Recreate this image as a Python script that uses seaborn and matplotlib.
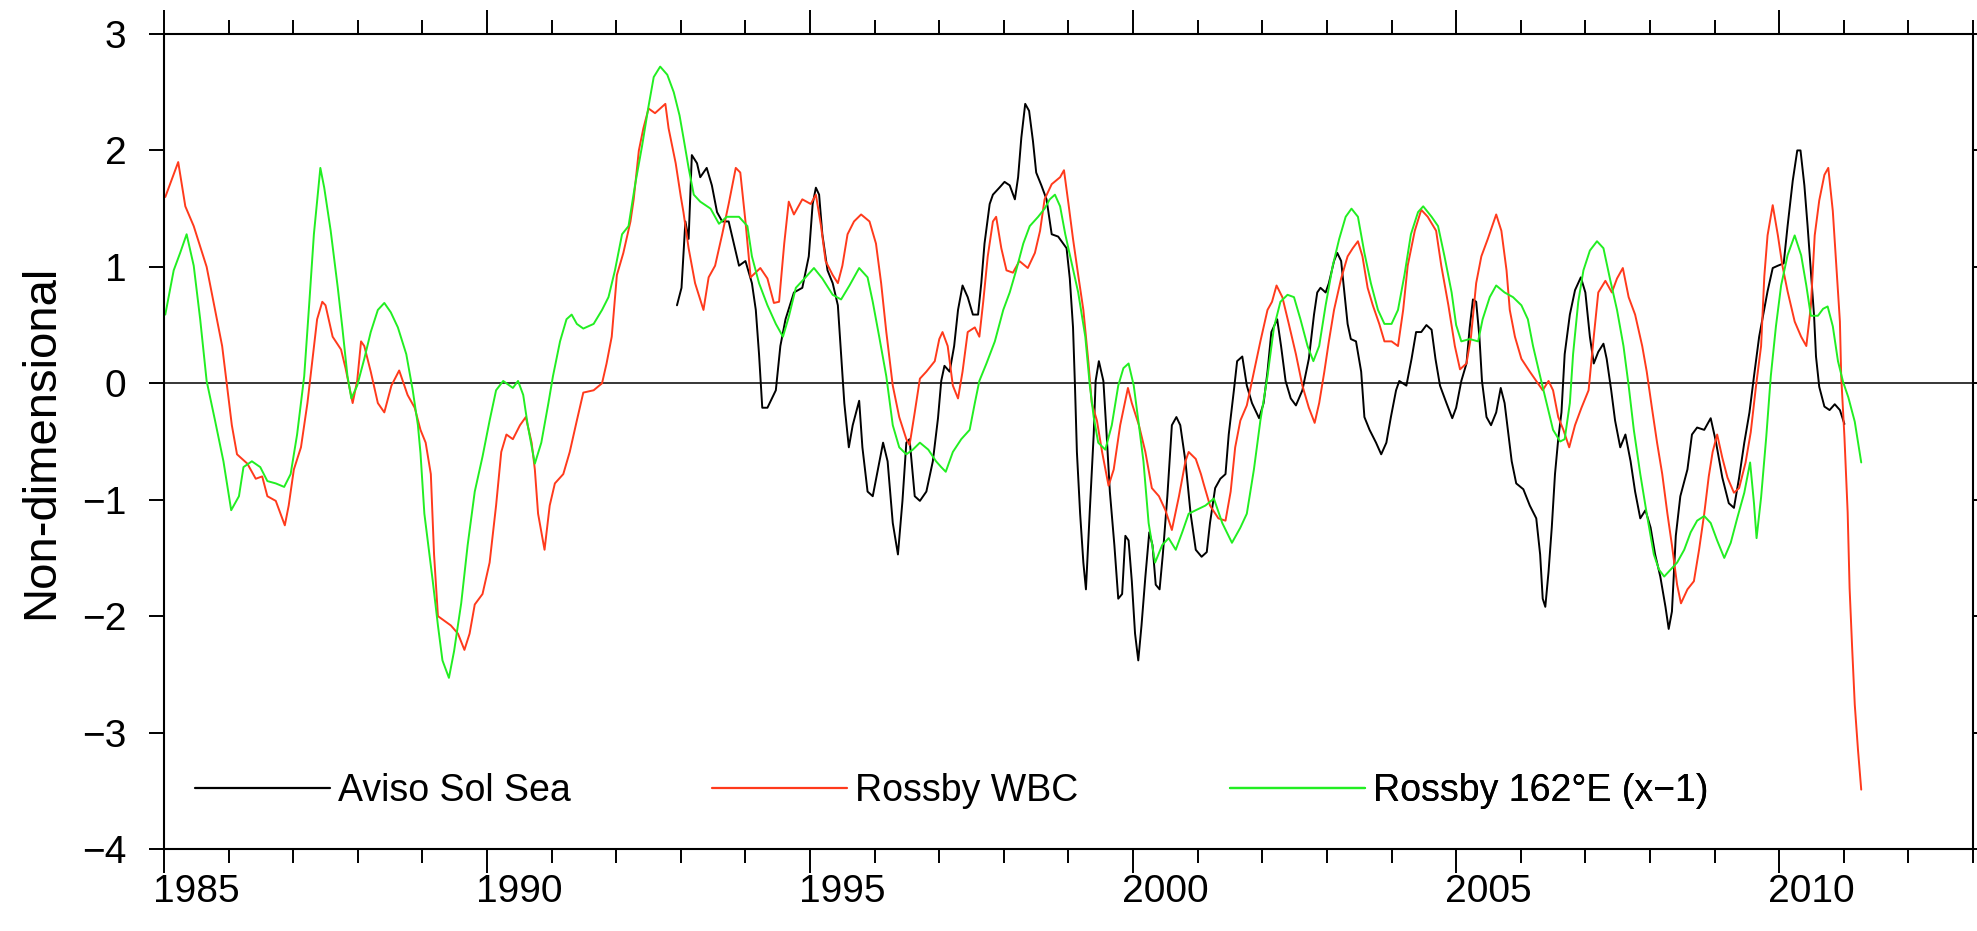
import numpy as np
import pandas as pd
import seaborn as sns
import matplotlib
matplotlib.use("Agg")
import matplotlib.pyplot as plt
from matplotlib.ticker import FixedLocator, MultipleLocator
from matplotlib.transforms import ScaledTranslation
from matplotlib.lines import Line2D

# ---------------- data ----------------
aviso_year = [1992.94, 1993.01, 1993.07, 1993.12, 1993.17, 1993.25, 1993.30, 1993.40, 1993.48, 1993.56,
              1993.64, 1993.74, 1993.82, 1993.90, 1994.00, 1994.10, 1994.16, 1994.21, 1994.26, 1994.34,
              1994.47, 1994.54, 1994.62, 1994.75, 1994.88, 1994.98, 1995.04, 1995.09, 1995.14, 1995.19,
              1995.27, 1995.35, 1995.43, 1995.48, 1995.53, 1995.60, 1995.66, 1995.76, 1995.81, 1995.89,
              1995.97, 1996.05, 1996.13, 1996.20, 1996.28, 1996.36, 1996.43, 1996.49, 1996.54, 1996.62,
              1996.70, 1996.80, 1996.90, 1996.98, 1997.03, 1997.08, 1997.16, 1997.23, 1997.29, 1997.36,
              1997.44, 1997.52, 1997.60, 1997.65, 1997.70, 1997.78, 1997.83, 1997.93, 1998.01, 1998.09,
              1998.17, 1998.22, 1998.27, 1998.33, 1998.39, 1998.45, 1998.50, 1998.58, 1998.66, 1998.74,
              1998.84, 1998.97, 1999.02, 1999.07, 1999.10, 1999.13, 1999.18, 1999.23, 1999.27, 1999.33,
              1999.39, 1999.42, 1999.47, 1999.54, 1999.59, 1999.64, 1999.71, 1999.77, 1999.83, 1999.88,
              1999.93, 1999.98, 2000.03, 2000.08, 2000.13, 2000.19, 2000.25, 2000.30, 2000.35, 2000.41,
              2000.46, 2000.53, 2000.60, 2000.67, 2000.73, 2000.81, 2000.89, 2000.97, 2001.06, 2001.14,
              2001.19, 2001.27, 2001.35, 2001.43, 2001.48, 2001.56, 2001.61, 2001.69, 2001.76, 2001.84,
              2001.95, 2002.02, 2002.08, 2002.14, 2002.23, 2002.29, 2002.36, 2002.44, 2002.52, 2002.62,
              2002.72, 2002.80, 2002.85, 2002.90, 2002.98, 2003.03, 2003.11, 2003.16, 2003.22, 2003.27,
              2003.32, 2003.37, 2003.45, 2003.53, 2003.58, 2003.66, 2003.76, 2003.84, 2003.92, 2003.99,
              2004.07, 2004.12, 2004.23, 2004.31, 2004.38, 2004.46, 2004.54, 2004.62, 2004.68, 2004.75,
              2004.85, 2004.94, 2005.00, 2005.08, 2005.16, 2005.21, 2005.26, 2005.31, 2005.36, 2005.40,
              2005.47, 2005.54, 2005.62, 2005.69, 2005.75, 2005.80, 2005.86, 2005.93, 2006.04, 2006.14,
              2006.24, 2006.30, 2006.34, 2006.38, 2006.43, 2006.48, 2006.53, 2006.58, 2006.63, 2006.68,
              2006.76, 2006.84, 2006.93, 2007.00, 2007.07, 2007.13, 2007.20, 2007.28, 2007.33, 2007.40,
              2007.46, 2007.54, 2007.62, 2007.70, 2007.77, 2007.85, 2007.93, 2008.01, 2008.08, 2008.16,
              2008.24, 2008.29, 2008.34, 2008.40, 2008.47, 2008.58, 2008.65, 2008.73, 2008.84, 2008.94,
              2009.02, 2009.12, 2009.22, 2009.30, 2009.38, 2009.46, 2009.54, 2009.61, 2009.69, 2009.74,
              2009.82, 2009.90, 2009.98, 2010.07, 2010.13, 2010.21, 2010.28, 2010.33, 2010.39, 2010.44,
              2010.49, 2010.54, 2010.57, 2010.62, 2010.70, 2010.78, 2010.86, 2010.94, 2011.01]
aviso_val = [0.67, 0.82, 1.39, 1.24, 1.96, 1.89, 1.77, 1.85, 1.70, 1.47,
             1.39, 1.39, 1.20, 1.01, 1.05, 0.86, 0.63, 0.25, -0.21, -0.21,
             -0.06, 0.32, 0.55, 0.78, 0.82, 1.09, 1.54, 1.68, 1.62, 1.28,
             0.97, 0.86, 0.67, 0.25, -0.17, -0.55, -0.36, -0.15, -0.55, -0.93,
             -0.97, -0.74, -0.51, -0.67, -1.20, -1.47, -1.01, -0.51, -0.48, -0.97,
             -1.01, -0.93, -0.67, -0.30, 0.02, 0.15, 0.10, 0.32, 0.63, 0.84,
             0.74, 0.59, 0.59, 0.86, 1.20, 1.54, 1.62, 1.68, 1.73, 1.70,
             1.58, 1.77, 2.11, 2.40, 2.34, 2.08, 1.81, 1.70, 1.58, 1.28,
             1.26, 1.16, 0.90, 0.48, -0.02, -0.59, -1.12, -1.54, -1.77, -1.09,
             -0.44, 0.02, 0.19, 0.02, -0.44, -0.93, -1.39, -1.85, -1.81, -1.31,
             -1.35, -1.70, -2.15, -2.38, -2.08, -1.66, -1.28, -1.39, -1.73, -1.77,
             -1.47, -0.97, -0.36, -0.29, -0.36, -0.67, -1.12, -1.43, -1.49, -1.45,
             -1.20, -0.90, -0.82, -0.78, -0.44, -0.06, 0.19, 0.23, -0.02, -0.17,
             -0.30, -0.17, 0.10, 0.44, 0.55, 0.32, 0.02, -0.13, -0.19, -0.06,
             0.21, 0.59, 0.78, 0.82, 0.78, 0.86, 1.05, 1.12, 1.05, 0.78,
             0.51, 0.38, 0.36, 0.10, -0.29, -0.40, -0.51, -0.61, -0.51, -0.29,
             -0.06, 0.02, -0.02, 0.21, 0.44, 0.44, 0.50, 0.46, 0.21, -0.02,
             -0.17, -0.30, -0.21, 0.02, 0.17, 0.48, 0.72, 0.70, 0.40, 0.02,
             -0.29, -0.36, -0.25, -0.04, -0.17, -0.40, -0.67, -0.86, -0.91, -1.05,
             -1.16, -1.47, -1.85, -1.92, -1.62, -1.24, -0.78, -0.48, -0.25, 0.25,
             0.59, 0.80, 0.91, 0.78, 0.40, 0.17, 0.27, 0.34, 0.21, -0.06,
             -0.32, -0.55, -0.44, -0.67, -0.93, -1.16, -1.09, -1.24, -1.47, -1.66,
             -1.92, -2.11, -1.96, -1.31, -0.97, -0.74, -0.44, -0.38, -0.40, -0.30,
             -0.50, -0.81, -1.03, -1.07, -0.81, -0.51, -0.25, 0.06, 0.40, 0.55,
             0.79, 0.99, 1.01, 1.03, 1.35, 1.74, 2.00, 2.00, 1.70, 1.35,
             0.97, 0.58, 0.23, -0.03, -0.20, -0.23, -0.18, -0.23, -0.35]

wbc_year = [1985.02, 1985.22, 1985.33, 1985.46, 1985.66, 1985.79, 1985.90, 1985.97, 1986.05, 1986.13,
            1986.29, 1986.42, 1986.52, 1986.60, 1986.73, 1986.87, 1986.93, 1987.01, 1987.12, 1987.22,
            1987.30, 1987.37, 1987.45, 1987.50, 1987.61, 1987.74, 1987.81, 1987.92, 1987.99, 1988.05,
            1988.10, 1988.20, 1988.31, 1988.41, 1988.52, 1988.64, 1988.77, 1988.88, 1988.97, 1989.05,
            1989.13, 1989.18, 1989.24, 1989.34, 1989.44, 1989.55, 1989.65, 1989.73, 1989.81, 1989.93,
            1990.04, 1990.14, 1990.22, 1990.30, 1990.40, 1990.51, 1990.60, 1990.69, 1990.74, 1990.79,
            1990.89, 1990.97, 1991.05, 1991.18, 1991.28, 1991.39, 1991.49, 1991.65, 1991.78, 1991.85,
            1991.93, 1992.01, 1992.11, 1992.22, 1992.27, 1992.35, 1992.42, 1992.50, 1992.60, 1992.76,
            1992.81, 1992.92, 1993.00, 1993.04, 1993.12, 1993.22, 1993.35, 1993.43, 1993.53, 1993.64,
            1993.74, 1993.85, 1993.92, 1994.00, 1994.08, 1994.23, 1994.34, 1994.44, 1994.52, 1994.60,
            1994.67, 1994.75, 1994.88, 1995.01, 1995.09, 1995.17, 1995.24, 1995.35, 1995.43, 1995.50,
            1995.58, 1995.68, 1995.79, 1995.92, 1996.02, 1996.10, 1996.18, 1996.28, 1996.38, 1996.49,
            1996.54, 1996.62, 1996.70, 1996.80, 1996.93, 1997.00, 1997.05, 1997.13, 1997.21, 1997.29,
            1997.36, 1997.44, 1997.55, 1997.62, 1997.68, 1997.75, 1997.83, 1997.88, 1997.96, 1998.04,
            1998.14, 1998.24, 1998.37, 1998.48, 1998.56, 1998.63, 1998.74, 1998.87, 1998.93, 1999.00,
            1999.07, 1999.15, 1999.23, 1999.31, 1999.36, 1999.44, 1999.52, 1999.62, 1999.70, 1999.80,
            1999.92, 1999.98, 2000.09, 2000.19, 2000.29, 2000.40, 2000.50, 2000.60, 2000.71, 2000.81,
            2000.86, 2000.97, 2001.05, 2001.09, 2001.19, 2001.32, 2001.43, 2001.51, 2001.58, 2001.66,
            2001.76, 2001.87, 2001.97, 2002.08, 2002.15, 2002.22, 2002.31, 2002.41, 2002.52, 2002.62,
            2002.72, 2002.81, 2002.88, 2002.96, 2003.03, 2003.11, 2003.22, 2003.32, 2003.40, 2003.48,
            2003.55, 2003.63, 2003.71, 2003.81, 2003.89, 2004.00, 2004.10, 2004.18, 2004.25, 2004.36,
            2004.46, 2004.56, 2004.69, 2004.77, 2004.88, 2004.98, 2005.06, 2005.16, 2005.23, 2005.31,
            2005.39, 2005.49, 2005.62, 2005.70, 2005.78, 2005.83, 2005.91, 2006.01, 2006.14, 2006.24,
            2006.34, 2006.43, 2006.50, 2006.58, 2006.66, 2006.75, 2006.84, 2006.94, 2007.05, 2007.13,
            2007.20, 2007.31, 2007.41, 2007.49, 2007.58, 2007.67, 2007.77, 2007.88, 2007.95, 2008.03,
            2008.11, 2008.19, 2008.27, 2008.34, 2008.42, 2008.48, 2008.58, 2008.68, 2008.76, 2008.84,
            2008.91, 2008.97, 2009.04, 2009.12, 2009.20, 2009.30, 2009.38, 2009.48, 2009.56, 2009.64,
            2009.72, 2009.77, 2009.82, 2009.90, 2009.98, 2010.05, 2010.13, 2010.24, 2010.34, 2010.42,
            2010.49, 2010.55, 2010.62, 2010.70, 2010.76, 2010.83, 2010.88, 2010.94, 2010.96, 2011.01,
            2011.06, 2011.09, 2011.13, 2011.17, 2011.22, 2011.27]
wbc_val = [1.60, 1.90, 1.52, 1.35, 1.00, 0.63, 0.32, 0.00, -0.36, -0.61,
           -0.69, -0.82, -0.80, -0.97, -1.01, -1.22, -1.05, -0.74, -0.55, -0.17,
           0.21, 0.55, 0.70, 0.67, 0.40, 0.29, 0.13, -0.17, 0.02, 0.36,
           0.32, 0.10, -0.17, -0.25, -0.02, 0.11, -0.10, -0.21, -0.40, -0.51,
           -0.78, -1.47, -2.00, -2.04, -2.08, -2.15, -2.29, -2.15, -1.90, -1.81,
           -1.54, -1.05, -0.59, -0.44, -0.48, -0.36, -0.29, -0.51, -0.74, -1.12,
           -1.43, -1.05, -0.86, -0.78, -0.59, -0.32, -0.08, -0.06, 0.00, 0.17,
           0.40, 0.93, 1.12, 1.39, 1.58, 2.00, 2.19, 2.36, 2.32, 2.40,
           2.19, 1.89, 1.60, 1.47, 1.16, 0.86, 0.63, 0.91, 1.01, 1.28,
           1.54, 1.85, 1.81, 1.39, 0.91, 0.99, 0.90, 0.69, 0.70, 1.20,
           1.56, 1.45, 1.58, 1.54, 1.62, 1.35, 1.05, 0.93, 0.86, 1.01,
           1.28, 1.39, 1.45, 1.39, 1.20, 0.86, 0.44, -0.02, -0.29, -0.48,
           -0.53, -0.25, 0.04, 0.10, 0.19, 0.38, 0.44, 0.32, -0.02, -0.13,
           0.10, 0.44, 0.48, 0.40, 0.70, 1.09, 1.39, 1.43, 1.16, 0.97,
           0.95, 1.05, 0.99, 1.12, 1.31, 1.58, 1.71, 1.77, 1.83, 1.54,
           1.24, 0.93, 0.63, 0.17, -0.17, -0.32, -0.59, -0.88, -0.74, -0.36,
           -0.04, -0.17, -0.36, -0.59, -0.90, -0.97, -1.09, -1.26, -0.97, -0.67,
           -0.59, -0.65, -0.78, -0.86, -1.05, -1.16, -1.18, -0.93, -0.55, -0.32,
           -0.19, 0.10, 0.36, 0.63, 0.70, 0.84, 0.74, 0.51, 0.25, -0.02,
           -0.21, -0.34, -0.17, 0.10, 0.36, 0.63, 0.90, 1.09, 1.16, 1.22,
           1.09, 0.82, 0.67, 0.51, 0.36, 0.36, 0.32, 0.63, 1.01, 1.31,
           1.49, 1.43, 1.31, 1.01, 0.67, 0.32, 0.12, 0.17, 0.40, 0.86,
           1.09, 1.24, 1.45, 1.31, 0.97, 0.63, 0.40, 0.21, 0.10, 0.02,
           -0.06, 0.02, -0.06, -0.29, -0.40, -0.55, -0.36, -0.21, -0.06, 0.40,
           0.78, 0.88, 0.78, 0.90, 0.99, 0.74, 0.59, 0.32, 0.10, -0.21,
           -0.51, -0.78, -1.12, -1.39, -1.73, -1.89, -1.77, -1.70, -1.43, -1.12,
           -0.80, -0.59, -0.44, -0.64, -0.81, -0.94, -0.90, -0.68, -0.42, -0.03,
           0.32, 0.92, 1.27, 1.53, 1.27, 1.01, 0.79, 0.53, 0.40, 0.32,
           0.66, 1.27, 1.57, 1.79, 1.85, 1.48, 1.05, 0.53, 0.06, -0.46,
           -1.11, -1.76, -2.28, -2.76, -3.15, -3.49]

r162_year = [1985.02, 1985.15, 1985.25, 1985.35, 1985.46, 1985.56, 1985.66, 1985.79, 1985.92, 1986.04,
             1986.16, 1986.23, 1986.36, 1986.49, 1986.60, 1986.73, 1986.86, 1986.96, 1987.06, 1987.17,
             1987.25, 1987.32, 1987.42, 1987.48, 1987.58, 1987.69, 1987.76, 1987.84, 1987.90, 1987.99,
             1988.10, 1988.20, 1988.31, 1988.41, 1988.51, 1988.62, 1988.75, 1988.85, 1988.93, 1988.97,
             1989.03, 1989.16, 1989.24, 1989.31, 1989.41, 1989.49, 1989.60, 1989.70, 1989.81, 1989.93,
             1990.04, 1990.14, 1990.25, 1990.40, 1990.48, 1990.56, 1990.63, 1990.74, 1990.84, 1990.95,
             1991.02, 1991.13, 1991.23, 1991.31, 1991.39, 1991.49, 1991.65, 1991.78, 1991.88, 1991.98,
             1992.09, 1992.19, 1992.29, 1992.40, 1992.50, 1992.58, 1992.68, 1992.79, 1992.89, 1992.98,
             1993.04, 1993.12, 1993.20, 1993.30, 1993.46, 1993.59, 1993.71, 1993.90, 1994.03, 1994.10,
             1994.21, 1994.34, 1994.47, 1994.58, 1994.67, 1994.78, 1994.93, 1995.06, 1995.19, 1995.35,
             1995.48, 1995.61, 1995.76, 1995.89, 1995.97, 1996.07, 1996.18, 1996.28, 1996.38, 1996.49,
             1996.59, 1996.70, 1996.83, 1996.95, 1997.03, 1997.10, 1997.21, 1997.34, 1997.47, 1997.55,
             1997.62, 1997.73, 1997.86, 1997.99, 1998.09, 1998.19, 1998.30, 1998.40, 1998.53, 1998.63,
             1998.71, 1998.79, 1998.87, 1998.95, 1999.05, 1999.15, 1999.26, 1999.33, 1999.39, 1999.46,
             1999.57, 1999.67, 1999.77, 1999.85, 1999.93, 2000.01, 2000.09, 2000.16, 2000.24, 2000.34,
             2000.45, 2000.55, 2000.66, 2000.76, 2000.86, 2000.97, 2001.12, 2001.25, 2001.38, 2001.53,
             2001.66, 2001.76, 2001.87, 2001.97, 2002.08, 2002.18, 2002.28, 2002.39, 2002.49, 2002.59,
             2002.70, 2002.79, 2002.88, 2002.98, 2003.09, 2003.19, 2003.29, 2003.38, 2003.48, 2003.58,
             2003.68, 2003.79, 2003.89, 2004.00, 2004.10, 2004.20, 2004.30, 2004.41, 2004.49, 2004.62,
             2004.72, 2004.82, 2004.93, 2005.00, 2005.08, 2005.21, 2005.34, 2005.41, 2005.52, 2005.62,
             2005.75, 2005.88, 2006.01, 2006.11, 2006.19, 2006.30, 2006.40, 2006.50, 2006.61, 2006.68,
             2006.76, 2006.81, 2006.89, 2006.97, 2007.07, 2007.18, 2007.28, 2007.38, 2007.49, 2007.59,
             2007.67, 2007.75, 2007.85, 2007.95, 2008.06, 2008.14, 2008.22, 2008.32, 2008.42, 2008.53,
             2008.63, 2008.73, 2008.84, 2008.94, 2009.04, 2009.15, 2009.25, 2009.35, 2009.46, 2009.55,
             2009.61, 2009.65, 2009.72, 2009.80, 2009.87, 2009.95, 2010.03, 2010.13, 2010.24, 2010.34,
             2010.42, 2010.49, 2010.60, 2010.68, 2010.75, 2010.83, 2010.91, 2010.99, 2011.07, 2011.17,
             2011.27]
r162_val = [0.59, 0.97, 1.12, 1.28, 1.01, 0.55, 0.02, -0.32, -0.67, -1.09,
            -0.97, -0.72, -0.67, -0.72, -0.84, -0.86, -0.89, -0.78, -0.44, 0.06,
            0.70, 1.28, 1.85, 1.68, 1.31, 0.82, 0.48, 0.06, -0.13, -0.02,
            0.21, 0.44, 0.63, 0.69, 0.61, 0.48, 0.25, -0.06, -0.36, -0.60,
            -1.12, -1.70, -2.08, -2.38, -2.53, -2.30, -1.89, -1.39, -0.93, -0.63,
            -0.32, -0.06, 0.02, -0.04, 0.02, -0.10, -0.36, -0.69, -0.51, -0.17,
            0.06, 0.36, 0.55, 0.59, 0.51, 0.47, 0.51, 0.63, 0.74, 0.97,
            1.28, 1.35, 1.70, 2.04, 2.38, 2.63, 2.72, 2.65, 2.50, 2.30,
            2.11, 1.85, 1.62, 1.56, 1.50, 1.37, 1.43, 1.43, 1.35, 1.09,
            0.86, 0.67, 0.51, 0.40, 0.57, 0.82, 0.91, 0.99, 0.90, 0.76,
            0.72, 0.84, 0.99, 0.91, 0.70, 0.40, 0.06, -0.36, -0.55, -0.61,
            -0.57, -0.51, -0.57, -0.67, -0.72, -0.76, -0.59, -0.48, -0.40, -0.17,
            0.02, 0.17, 0.36, 0.63, 0.78, 0.97, 1.20, 1.35, 1.43, 1.50,
            1.58, 1.62, 1.52, 1.28, 1.03, 0.78, 0.40, -0.02, -0.29, -0.51,
            -0.57, -0.36, -0.02, 0.13, 0.17, -0.02, -0.36, -0.67, -1.20, -1.54,
            -1.39, -1.33, -1.43, -1.28, -1.12, -1.09, -1.05, -0.99, -1.20, -1.37,
            -1.24, -1.12, -0.74, -0.32, 0.06, 0.48, 0.70, 0.76, 0.74, 0.55,
            0.32, 0.19, 0.32, 0.67, 1.01, 1.24, 1.43, 1.50, 1.43, 1.12,
            0.86, 0.63, 0.51, 0.51, 0.63, 0.93, 1.28, 1.47, 1.52, 1.43,
            1.35, 1.09, 0.78, 0.50, 0.36, 0.38, 0.36, 0.55, 0.74, 0.84,
            0.78, 0.74, 0.67, 0.55, 0.32, 0.06, -0.17, -0.40, -0.50, -0.48,
            -0.17, 0.25, 0.70, 0.97, 1.14, 1.22, 1.16, 0.90, 0.63, 0.32,
            -0.02, -0.40, -0.78, -1.12, -1.47, -1.60, -1.66, -1.60, -1.54, -1.43,
            -1.28, -1.18, -1.14, -1.20, -1.35, -1.50, -1.37, -1.16, -0.94, -0.68,
            -1.03, -1.33, -0.98, -0.46, 0.06, 0.49, 0.84, 1.10, 1.27, 1.10,
            0.84, 0.58, 0.58, 0.64, 0.66, 0.49, 0.19, 0.01, -0.12, -0.33,
            -0.68]

series_labels = ["Aviso Sol Sea", "Rossby WBC", "Rossby 162°E (x\u22121)"]
series_colors = ["#000000", "#ff3a1c", "#22ee22"]
major_years = [1985, 1990, 1995, 2000, 2005, 2010]
y_ticks = [-4, -3, -2, -1, 0, 1, 2, 3]

# ---------------- style ----------------
sns.set_theme(style="white", rc={
    "axes.edgecolor": "black", "xtick.color": "black", "ytick.color": "black",
    "text.color": "black", "axes.labelcolor": "black", "axes.linewidth": 1.5,
})
plt.rcParams["font.family"] = ["Liberation Sans", "DejaVu Sans"]

W, H = 1977, 931
fig = plt.figure(figsize=(W / 100, H / 100), dpi=100)
fig.patch.set_facecolor("white")
ax = fig.add_axes([164 / W, 1 - 849 / H, (1973 - 164) / W, (849 - 34) / H])
ax.set_facecolor("white")

frames = [
    pd.DataFrame({"year": aviso_year, "value": aviso_val}),
    pd.DataFrame({"year": wbc_year, "value": wbc_val}),
    pd.DataFrame({"year": r162_year, "value": r162_val}),
]
for df, col in zip(frames, series_colors):
    sns.lineplot(data=df, x="year", y="value", color=col, lw=1.4, ax=ax,
                 sort=False, estimator=None, legend=False)

ax.axhline(0, color="black", lw=1.1, zorder=1)

ax.set_xlim(1985, 2013)
ax.set_ylim(-4, 3)
ax.set_xlabel("")
ax.set_ylabel("Non-dimensional", fontsize=34)
ax.yaxis.set_label_coords(-0.056, 0.5)

ax.xaxis.set_major_locator(FixedLocator(major_years))
ax.xaxis.set_minor_locator(MultipleLocator(1))
ax.set_xticks(major_years, [str(y) for y in major_years])
ax.set_yticks(y_ticks, [f"{v}".replace("-", "\u2212") for v in y_ticks])

ax.tick_params(axis="x", which="major", direction="out", length=17, width=1.4,
               top=True, bottom=True, labelsize=28, pad=1)
ax.tick_params(axis="x", which="minor", direction="out", length=10, width=1.4,
               top=True, bottom=True)
ax.tick_params(axis="y", which="major", direction="out", length=11, width=1.4,
               left=True, right=True, labelsize=28, pad=16)

# labels sit at mid-year (half a year to the right of the tick)
half_year_in = 0.5 * (1973 - 164) / 28 / 100
offset = ScaledTranslation(half_year_in, 0, fig.dpi_scale_trans)
for lab in ax.xaxis.get_majorticklabels():
    lab.set_transform(lab.get_transform() + offset)

for s in ax.spines.values():
    s.set_linewidth(1.5)
    s.set_color("black")

# legend: three equally spaced entries inside the bottom of the axes
leg_x = [0.0171, 0.303, 0.589]
for x0, col, lab in zip(leg_x, series_colors, series_labels):
    leg = ax.legend(handles=[Line2D([], [], color=col, lw=1.6)], labels=[lab],
                    loc="center left", bbox_to_anchor=(x0, 0.071), frameon=False,
                    borderpad=0, borderaxespad=0, handlelength=3.6,
                    handletextpad=0.22, fontsize=27)
    ax.add_artist(leg)

fig.savefig("out.png", dpi=100, facecolor="white")
